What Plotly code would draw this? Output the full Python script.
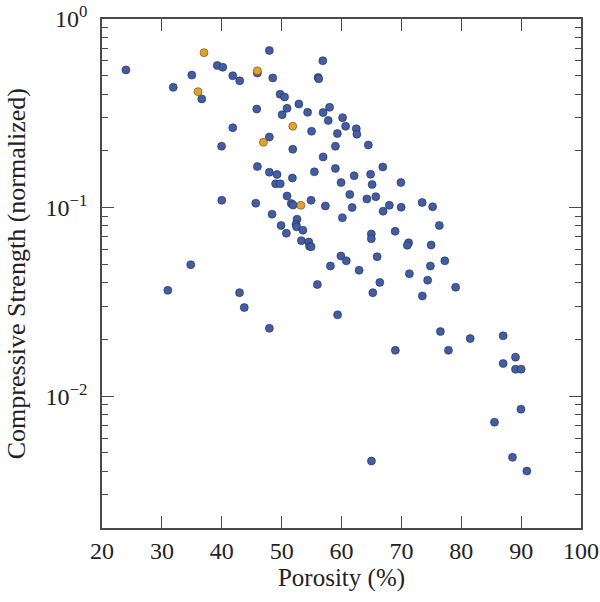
import plotly.graph_objects as go

# Blue series: porosity (%) and normalized compressive strength
blue_porosity = [
    24.0, 31.9, 35.0, 36.66, 39.25, 40.17, 41.84, 43.0, 39.97, 41.84,
    45.95, 47.95, 48.52, 45.85, 47.95, 49.74, 50.49, 50.91, 50.08, 51.86,
    45.95, 47.95, 49.24, 51.8, 48.99, 49.77, 50.91, 40.0, 52.88, 56.88,
    56.09, 56.2, 54.34, 56.93, 58.01, 57.79, 60.18, 60.69, 62.47, 62.57,
    59.31, 55.0, 58.98, 64.48, 56.93, 58.98, 66.9, 55.47, 62.11, 64.86,
    65.11, 69.92, 59.93, 61.39, 64.24, 65.73, 54.92, 73.47, 45.68, 51.61,
    51.91, 48.4, 52.58, 52.41, 52.5, 53.55, 49.91, 50.79, 53.3, 54.54,
    54.67, 54.92, 57.31, 61.77, 67.99, 66.95, 69.96, 75.22, 60.15, 76.34,
    68.96, 64.98, 64.98, 71.21, 70.99, 74.97, 59.9, 60.8, 65.95, 58.15,
    62.94, 74.85, 77.26, 55.97, 66.4, 71.34, 74.39, 65.23, 79.06, 73.5,
    59.35, 34.82, 30.99, 42.97, 43.76, 47.95, 76.52, 81.49, 87.0, 68.99,
    77.86, 89.06, 87.0, 89.06, 90.01, 89.97, 85.55, 65.0, 88.56, 90.96,
]
blue_strength = [
    0.537, 0.434, 0.504, 0.377, 0.567, 0.555, 0.500, 0.470, 0.2117, 0.265,
    0.517, 0.681, 0.487, 0.333, 0.2367, 0.399, 0.386, 0.336, 0.311, 0.2038,
    0.165, 0.154, 0.1498, 0.1435, 0.1337, 0.1337, 0.1152, 0.1093, 0.354, 0.601,
    0.490, 0.482, 0.320, 0.319, 0.340, 0.290, 0.2998, 0.270, 0.2617, 0.245,
    0.247, 0.254, 0.2114, 0.2147, 0.1855, 0.1612, 0.1642, 0.1548, 0.1475, 0.1502,
    0.1326, 0.1358, 0.1358, 0.1173, 0.1111, 0.1142, 0.1093, 0.1064, 0.1055, 0.1051,
    0.1032, 0.0923, 0.0868, 0.0815, 0.0791, 0.0758, 0.0804, 0.0731, 0.0668, 0.0657,
    0.0623, 0.0620, 0.1020, 0.1001, 0.1028, 0.0957, 0.1004, 0.1010, 0.0884, 0.0804,
    0.0749, 0.0724, 0.0684, 0.0651, 0.0631, 0.0633, 0.0554, 0.0522, 0.0549, 0.0490,
    0.0465, 0.0490, 0.0522, 0.0391, 0.0401, 0.0446, 0.0412, 0.0354, 0.0378, 0.0340,
    0.0270, 0.0498, 0.0364, 0.0354, 0.0295, 0.0229, 0.0220, 0.0202, 0.0209, 0.0175,
    0.0175, 0.0161, 0.0149, 0.0139, 0.0139, 0.00853, 0.00728, 0.00453, 0.00474, 0.00401,
]

# Orange series
orange_porosity = [37.04, 36.04, 45.95, 46.95, 51.86, 53.22]
orange_strength = [0.663, 0.412, 0.531, 0.222, 0.270, 0.1028]

# Axis ticks
x_tickvals = [20, 30, 40, 50, 60, 70, 80, 90, 100]
y_tickvals = [1, 0.1, 0.01]
y_ticktext = ["10<sup>0</sup>", "10<sup>\u22121</sup>", "10<sup>\u22122</sup>"]
y_minor = [m * d for d in (0.1, 0.01, 0.001) for m in range(2, 10)]

X_TITLE = "Porosity (%)"
Y_TITLE = "Compressive Strength (normalized)"

FONT = "Liberation Serif, DejaVu Serif, serif"
AXIS_COLOR = "#4a4a4a"

fig = go.Figure()
fig.add_trace(go.Scatter(
    x=blue_porosity, y=blue_strength, mode="markers",
    marker=dict(size=8, color="#3f5ea9", line=dict(color="#2b2b3a", width=0.6)),
    showlegend=False,
))
fig.add_trace(go.Scatter(
    x=orange_porosity, y=orange_strength, mode="markers",
    marker=dict(size=8, color="#e3a22a", line=dict(color="#5a4a2a", width=0.6)),
    showlegend=False,
))

fig.update_layout(
    width=600, height=602,
    margin=dict(l=102, r=19, t=19, b=74),
    paper_bgcolor="white", plot_bgcolor="white",
    font=dict(family=FONT, size=25, color="#222222"),
    xaxis=dict(
        range=[20, 100], tickvals=x_tickvals,
        ticks="inside", ticklen=12, tickwidth=1, tickcolor=AXIS_COLOR,
        showline=True, linecolor=AXIS_COLOR, linewidth=1.5, mirror="ticks",
        showgrid=False, zeroline=False, automargin=False,
        ticklabeloverflow="allow",
        title=dict(text=X_TITLE, standoff=6, font=dict(family=FONT, size=25)),
        tickfont=dict(family=FONT, size=24),
    ),
    yaxis=dict(
        type="log", range=[-2.699, 0],
        tickvals=y_tickvals, ticktext=y_ticktext,
        ticks="inside", ticklen=12, tickwidth=1, tickcolor=AXIS_COLOR,
        showline=True, linecolor=AXIS_COLOR, linewidth=1.5, mirror="ticks",
        showgrid=False, zeroline=False, automargin=False,
        ticklabeloverflow="allow",
        minor=dict(tickvals=y_minor, ticks="inside", ticklen=6, tickwidth=1,
                   tickcolor=AXIS_COLOR, showgrid=False),
        tickfont=dict(family=FONT, size=24),
        ticklabelstandoff=8,
    ),
    annotations=[dict(
        text=Y_TITLE, textangle=-90, showarrow=False,
        xref="paper", yref="paper", x=-0.178, y=0.5,
        xanchor="center", yanchor="middle",
        font=dict(family=FONT, size=26, color="#222222"),
    )],
)

fig.write_html(
    "out.html",
    config={"displayModeBar": False},
    post_script="document.body.style.margin='0';document.body.style.overflow='hidden';",
)
